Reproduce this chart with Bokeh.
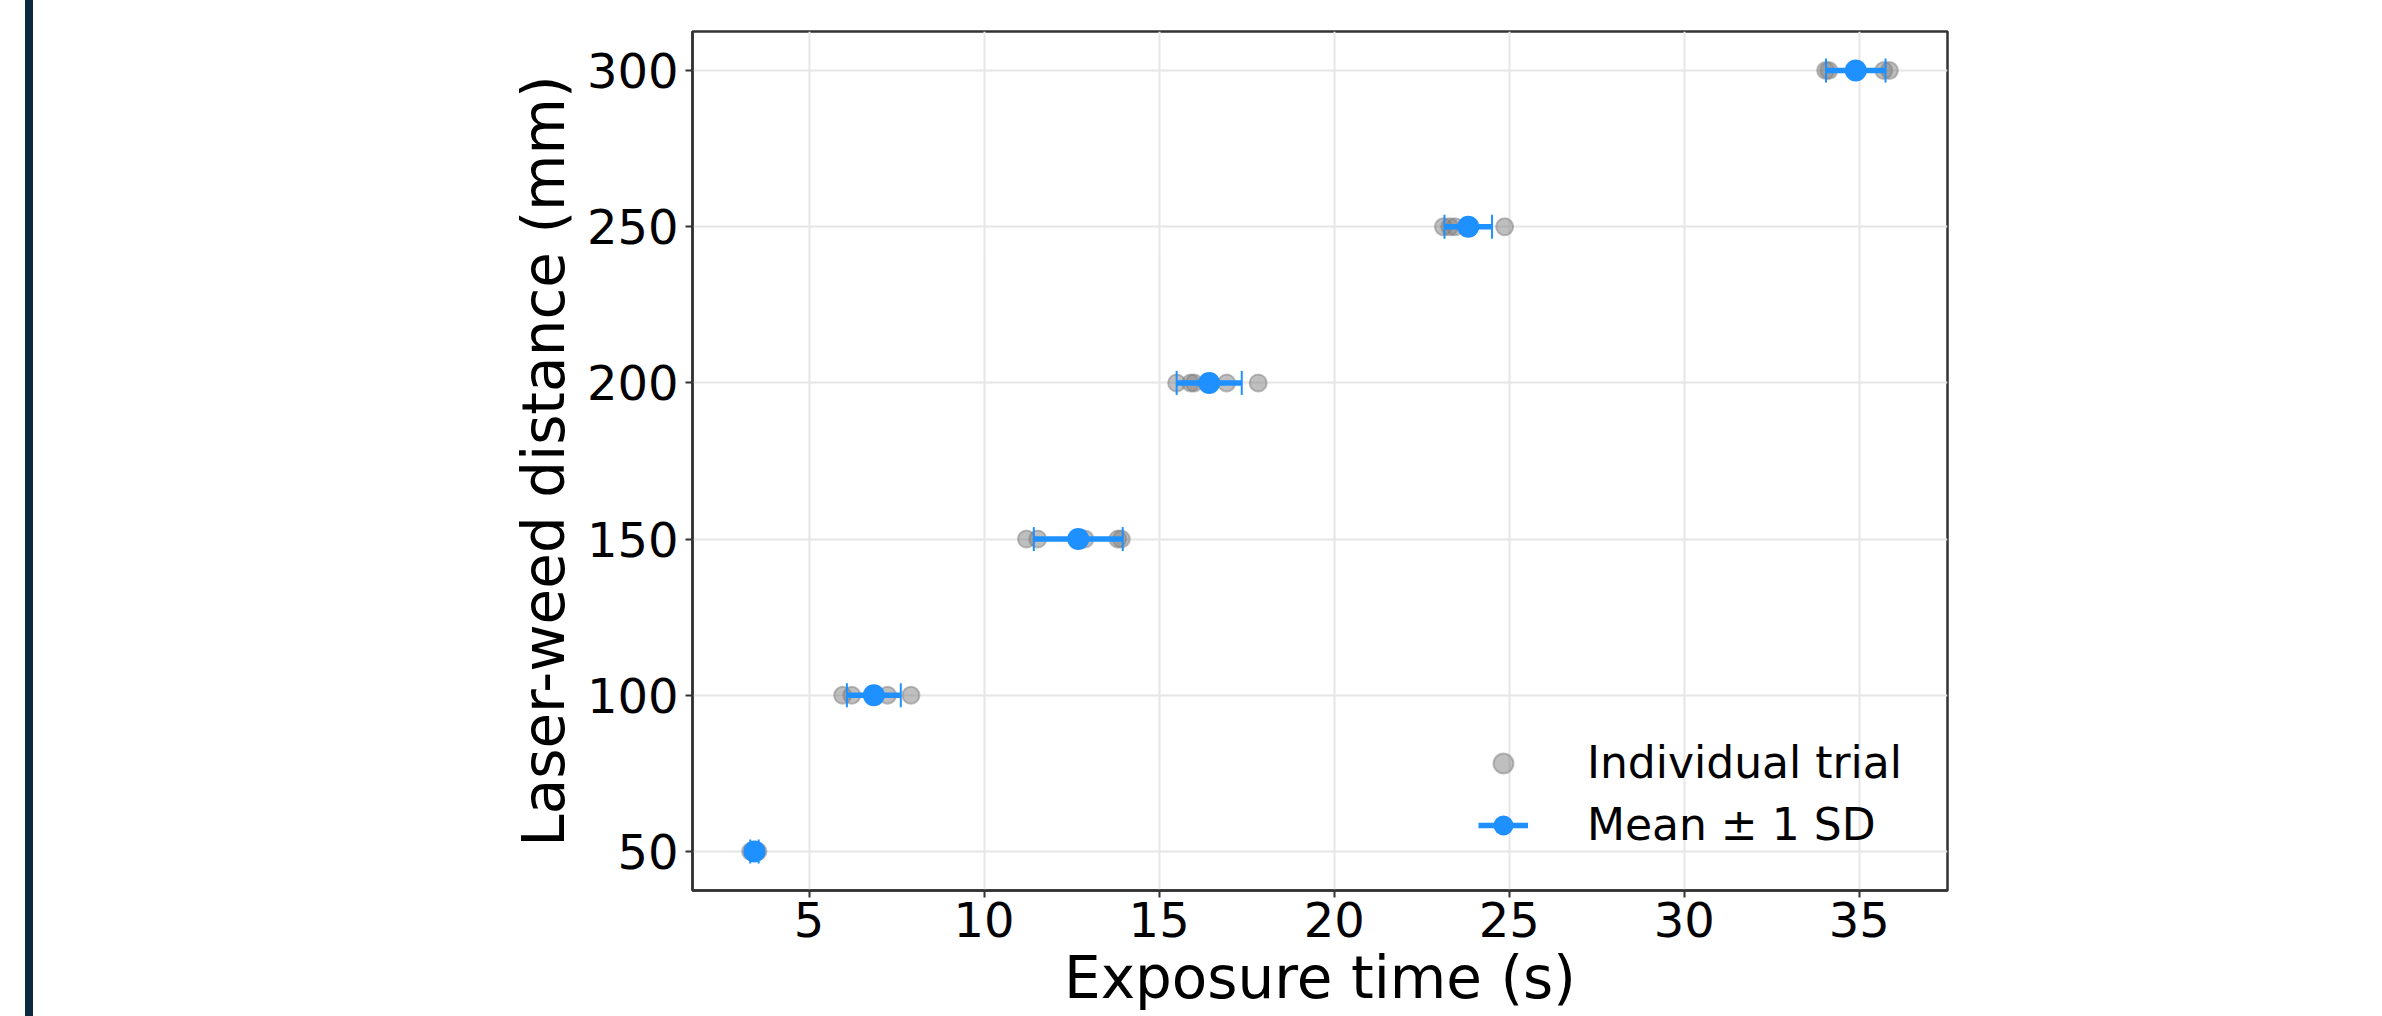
import numpy as np
from bokeh.plotting import figure
from bokeh.models import (ColumnDataSource, FixedTicker, Legend, LegendItem,
                          Div, Spacer, Range1d)
from bokeh.layouts import row
from bokeh.embed import file_html
from bokeh.resources import INLINE

# ---------------- data ----------------
distances = [50, 100, 150, 200, 250, 300]           # laser-weed distance (mm)
mean_time = [3.44, 6.85, 12.69, 16.43, 23.83, 34.90]  # mean exposure time (s)
sd_time = [0.12, 0.77, 1.27, 0.93, 0.68, 0.85]        # 1 SD (s)

trial_distance = [50, 50, 50, 50,
                  100, 100, 100, 100,
                  150, 150, 150, 150, 150,
                  200, 200, 200, 200, 200,
                  250, 250, 250, 250,
                  300, 300, 300, 300]
trial_time = [3.33, 3.40, 3.48, 3.54,
              5.96, 6.22, 7.24, 7.91,
              11.21, 11.53, 12.88, 13.82, 13.92,
              15.50, 15.90, 16.00, 16.93, 17.83,
              23.12, 23.30, 23.45, 24.87,
              34.04, 34.13, 35.70, 35.86]

x_ticks = [5, 10, 15, 20, 25, 30, 35]
y_ticks = [50, 100, 150, 200, 250, 300]

x_label = "Exposure time (s)"
y_label = "Laser-weed distance (mm)"
legend_trial = "Individual trial"
legend_mean = "Mean \u00b1 1 SD"

# ---------------- styling ----------------
FONT = "DejaVu Sans"
BLUE = "#1e90ff"
SPINE = "#333333"

lo = [m - s for m, s in zip(mean_time, sd_time)]
hi = [m + s for m, s in zip(mean_time, sd_time)]

src_mean = ColumnDataSource(dict(d=distances, m=mean_time, lo=lo, hi=hi))
src_caps = ColumnDataSource(dict(x=lo + hi, y=distances + distances))
src_trial = ColumnDataSource(dict(t=trial_time, d=trial_distance))

p = figure(width=2349, height=1016,
           x_range=Range1d(1.67, 37.52), y_range=Range1d(37.5, 312.5),
           output_backend="svg", toolbar_location=None,
           min_border_left=659, min_border_right=435,
           min_border_top=31, min_border_bottom=126)

p.background_fill_color = "white"
p.border_fill_color = "white"
p.outline_line_color = SPINE
p.outline_line_width = 2.5

# grid
p.xgrid.ticker = FixedTicker(ticks=x_ticks)
p.ygrid.ticker = FixedTicker(ticks=y_ticks)
for g in (p.xgrid, p.ygrid):
    g.grid_line_color = "#e6e6e6"
    g.grid_line_width = 2

# axes
p.xaxis.ticker = FixedTicker(ticks=x_ticks)
p.yaxis.ticker = FixedTicker(ticks=y_ticks)
p.xaxis.axis_label = x_label
p.yaxis.axis_label = y_label
for ax in (p.xaxis, p.yaxis):
    ax.axis_line_color = SPINE
    ax.axis_line_width = 2.5
    ax.major_tick_line_color = SPINE
    ax.major_tick_line_width = 2
    ax.major_tick_out = 7
    ax.major_tick_in = 0
    ax.minor_tick_line_color = None
    ax.major_label_text_font = FONT
    ax.major_label_text_font_size = "48px"
    ax.major_label_text_color = "black"
    ax.axis_label_text_font = FONT
    ax.axis_label_text_font_size = "58px"
    ax.axis_label_text_font_style = "normal"
    ax.axis_label_text_color = "black"
p.xaxis.major_label_standoff = 4
p.xaxis.axis_label_standoff = 4
p.yaxis.major_label_standoff = 7
p.yaxis.axis_label_standoff = 6

# glyphs
r_trial = p.scatter("t", "d", source=src_trial, size=17, marker="circle",
                    fill_color="gray", fill_alpha=0.5,
                    line_color="gray", line_alpha=0.5, line_width=2)
r_bar = p.segment(x0="lo", y0="d", x1="hi", y1="d", source=src_mean,
                  line_color=BLUE, line_width=5.5)
r_caps = p.scatter("x", "y", source=src_caps, marker="dash", angle=np.pi / 2,
                   size=24, line_color=BLUE, line_width=2)
r_mean = p.scatter("m", "d", source=src_mean, size=22, marker="circle",
                   fill_color=BLUE, line_color=BLUE, line_width=0)

legend = Legend(items=[LegendItem(label=legend_trial, renderers=[r_trial]),
                       LegendItem(label=legend_mean, renderers=[r_bar, r_mean])],
                location=(776, 30))
legend.glyph_width = 50
legend.glyph_height = 50
legend.label_height = 50
legend.label_standoff = 59
legend.spacing = 11
legend.padding = 10
legend.margin = 0
legend.label_text_font = FONT
legend.label_text_font_size = "44px"
legend.label_text_color = "black"
legend.border_line_alpha = 0
legend.background_fill_alpha = 0
p.add_layout(legend, "center")

spacer = Spacer(width=25, height=1016, margin=0)
bar = Div(text="", width=8, height=1016, margin=0,
          styles={"background-color": "#0c2a3e"})

layout = row(spacer, bar, p)

open("out.html", "w").write(file_html(layout, INLINE))
